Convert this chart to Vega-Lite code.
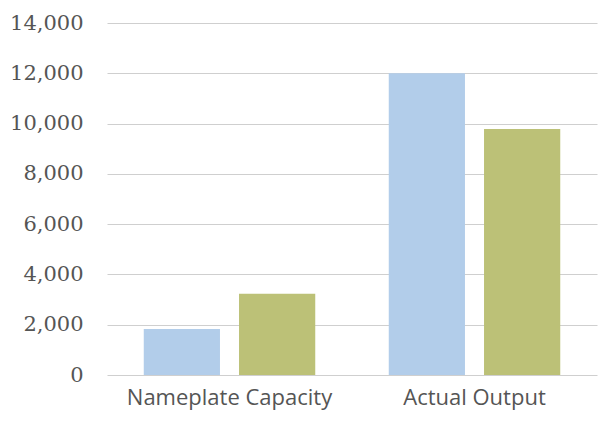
{
  "$schema": "https://vega.github.io/schema/vega-lite/v6.json",
  "width": 490,
  "height": 352,
  "autosize": {"type": "none"},
  "padding": {"left": 107, "top": 23, "right": 1, "bottom": 47},
  "background": "#ffffff",
  "data": {
    "values": [
      {"category": "Nameplate Capacity", "series": "A", "value": 1830},
      {"category": "Nameplate Capacity", "series": "B", "value": 3230},
      {"category": "Actual Output", "series": "A", "value": 12000},
      {"category": "Actual Output", "series": "B", "value": 9780}
    ]
  },
  "mark": {"type": "bar"},
  "encoding": {
    "x": {
      "field": "category",
      "type": "nominal",
      "sort": ["Nameplate Capacity", "Actual Output"],
      "scale": {"paddingInner": 0.3, "paddingOuter": 0.15},
      "axis": {
        "title": null,
        "labelAngle": 0,
        "labelFont": "Open Sans",
        "labelFontSize": 22,
        "labelColor": "#555555",
        "labelPadding": 12,
        "labelLimit": 400,
        "ticks": false,
        "domain": false,
        "grid": false
      }
    },
    "xOffset": {
      "field": "series",
      "type": "nominal",
      "scale": {"paddingInner": 0.2}
    },
    "y": {
      "field": "value",
      "type": "quantitative",
      "scale": {"domain": [0, 14000], "nice": false},
      "axis": {
        "title": null,
        "values": [0, 2000, 4000, 6000, 8000, 10000, 12000, 14000],
        "format": ",d",
        "labelFont": "DejaVu Serif",
        "labelFontSize": 21,
        "labelColor": "#555555",
        "labelPadding": 24,
        "ticks": false,
        "domain": false,
        "grid": true,
        "gridColor": "#cfcfcf",
        "gridWidth": 1
      }
    },
    "color": {
      "field": "series",
      "type": "nominal",
      "scale": {"domain": ["A", "B"], "range": ["#b2cdea", "#bcc177"]},
      "legend": null
    }
  },
  "config": {"view": {"stroke": null}}
}
